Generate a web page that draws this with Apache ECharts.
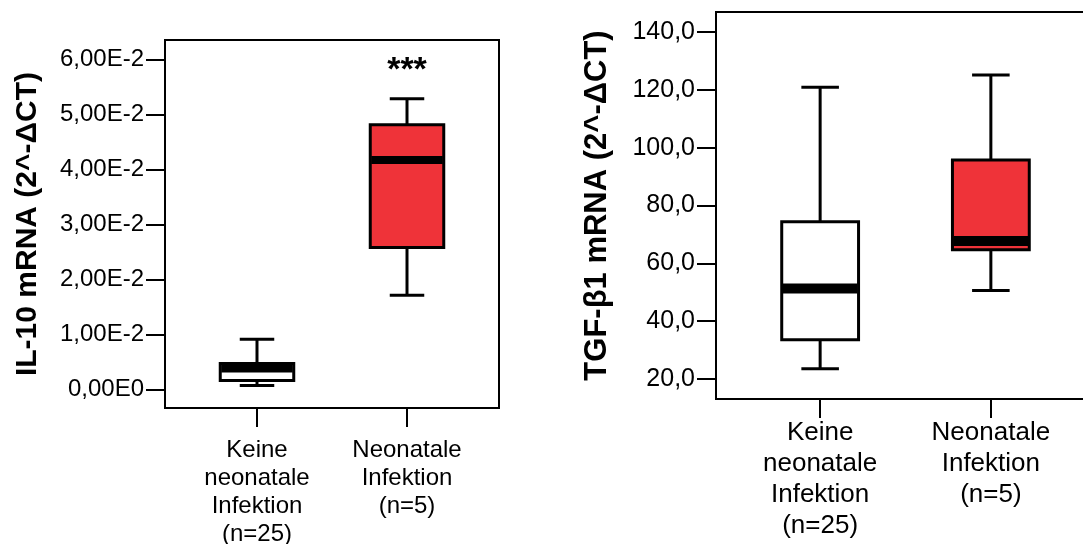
<!DOCTYPE html>
<html>
<head>
    <meta http-equiv="Content-Type" content="text/html; charset=utf-8" />
    <title>IL-10 / TGF-β1 mRNA</title>
    <script src="https://cdn.jsdelivr.net/npm/echarts@6/dist/echarts.min.js"></script>
</head>
<body style="margin:0;padding:0;background:#fff;">
    <div id="main" style="width:1083px;height:544px;"></div>
    <script type="text/javascript">
        // categories (same groups in both panels)
        var cats = ['Keine\nneonatale\nInfektion\n(n=25)', 'Neonatale\nInfektion\n(n=5)'];
        var boxColors = ['#ffffff', '#ef3339'];
        var sigMarks = ['', '***'];

        // IL-10 (left panel)
        var il10Min    = [0.0007, 0.0171];
        var il10Q1     = [0.0016, 0.0258];
        var il10Median = [0.0038, 0.0417];
        var il10Q3     = [0.0047, 0.0481];
        var il10Max    = [0.0091, 0.0528];
        var il10Ticks  = [0, 0.01, 0.02, 0.03, 0.04, 0.05, 0.06];
        var il10TickText = ['0,00E0', '1,00E-2', '2,00E-2', '3,00E-2', '4,00E-2', '5,00E-2', '6,00E-2'];

        // TGF-b1 (right panel)
        var tgfMin    = [23.6, 50.6];
        var tgfQ1     = [33.6, 64.7];
        var tgfMedian = [51.3, 67.7];
        var tgfQ3     = [74.4, 95.7];
        var tgfMax    = [120.9, 125.1];
        var tgfTicks  = [20, 40, 60, 80, 100, 120, 140];
        var tgfTickText = ['20,0', '40,0', '60,0', '80,0', '100,0', '120,0', '140,0'];

        var FONT = "'Liberation Sans', Arial, sans-serif";

        function buildData(mn, q1, med, q3, mx) {
            var out = [];
            for (var i = 0; i < cats.length; i++)
                out.push([i + 1, mn[i], q1[i], med[i], q3[i], mx[i]]);
            return out;
        }

        // box + whiskers drawn with the axis scales
        function boxRenderer(boxW, capW, medW, starSize) {
            return function (params, api) {
                var x = api.value(0);
                var pMin = api.coord([x, api.value(1)]);
                var pQ1 = api.coord([x, api.value(2)]);
                var pMed = api.coord([x, api.value(3)]);
                var pQ3 = api.coord([x, api.value(4)]);
                var pMax = api.coord([x, api.value(5)]);
                var cx = pMed[0];
                var hb = api.size([boxW, 0])[0] / 2;
                var hc = api.size([capW, 0])[0] / 2;
                var ls = { stroke: '#000', lineWidth: 3 };
                var kids = [
                    { type: 'line', shape: { x1: cx, y1: pMax[1], x2: cx, y2: pQ3[1] }, style: ls },
                    { type: 'line', shape: { x1: cx, y1: pQ1[1], x2: cx, y2: pMin[1] }, style: ls },
                    { type: 'line', shape: { x1: cx - hc, y1: pMax[1], x2: cx + hc, y2: pMax[1] }, style: ls },
                    { type: 'line', shape: { x1: cx - hc, y1: pMin[1], x2: cx + hc, y2: pMin[1] }, style: ls },
                    { type: 'rect', shape: { x: cx - hb, y: pQ3[1], width: hb * 2, height: pQ1[1] - pQ3[1] },
                      style: { fill: boxColors[params.dataIndex], stroke: '#000', lineWidth: 3 } },
                    { type: 'line', shape: { x1: cx - hb + 1, y1: pMed[1], x2: cx + hb - 1, y2: pMed[1] },
                      style: { stroke: '#000', lineWidth: medW } }
                ];
                if (starSize && sigMarks[params.dataIndex]) {
                    kids.push({ type: 'text', style: {
                        text: sigMarks[params.dataIndex], x: cx, y: pMax[1] - 45,
                        align: 'center', verticalAlign: 'top',
                        font: 'bold ' + starSize + 'px ' + FONT, fill: '#000' } });
                }
                return { type: 'group', children: kids };
            };
        }

        function catAxis(gridIndex, min, max, fontSize, lineHeight, margin) {
            return {
                type: 'value', gridIndex: gridIndex, min: min, max: max,
                splitLine: { show: false },
                axisLine: { show: true, onZero: false, lineStyle: { color: '#000', width: 2 } },
                axisTick: { show: true, customValues: [1, 2], length: 19, lineStyle: { color: '#000', width: 2 } },
                axisLabel: {
                    show: true, customValues: [1, 2], margin: margin,
                    color: '#000', fontFamily: FONT, fontSize: fontSize, lineHeight: lineHeight, align: 'center',
                    formatter: function (v) { return cats[Math.round(v) - 1] || ''; }
                }
            };
        }

        function valAxis(gridIndex, min, max, ticks, text, fontSize, name, nameSize, nameGap) {
            return {
                type: 'value', gridIndex: gridIndex, min: min, max: max,
                name: name, nameLocation: 'middle', nameGap: nameGap, nameRotate: 90,
                nameTextStyle: { color: '#000', fontFamily: FONT, fontSize: nameSize, fontWeight: 'bold' },
                splitLine: { show: false },
                axisLine: { show: true, onZero: false, lineStyle: { color: '#000', width: 2 } },
                axisTick: { show: true, customValues: ticks, length: 19, lineStyle: { color: '#000', width: 2 } },
                axisLabel: {
                    show: true, customValues: ticks, margin: 21,
                    color: '#000', fontFamily: FONT, fontSize: fontSize,
                    formatter: function (v) {
                        for (var i = 0; i < ticks.length; i++)
                            if (Math.abs(ticks[i] - v) < 1e-9) return text[i];
                        return '';
                    }
                }
            };
        }

        var chart = echarts.init(document.getElementById('main'), null, { renderer: 'canvas' });
        var option = {
            backgroundColor: '#ffffff',
            animation: false,
            grid: [
                { left: 165, top: 40, width: 334, height: 368, outerBoundsMode: 'none', containLabel: false,
                  show: true, borderColor: '#000', borderWidth: 2, backgroundColor: 'transparent' },
                { left: 716, top: 12, width: 379, height: 387, outerBoundsMode: 'none', containLabel: false,
                  show: true, borderColor: '#000', borderWidth: 2, backgroundColor: 'transparent' }
            ],
            xAxis: [
                catAxis(0, 0.3867, 2.6133, 24, 28, 28),
                catAxis(1, 0.39, 2.61, 26, 31, 18)
            ],
            yAxis: [
                valAxis(0, -0.0034, 0.0635, il10Ticks, il10TickText, 24, 'IL-10 mRNA (2^-ΔCT)', 30, 122),
                valAxis(1, 13.1, 146.9, tgfTicks, tgfTickText, 25, 'TGF-β1 mRNA (2^-ΔCT)', 31, 103)
            ],
            series: [
                {
                    type: 'custom', xAxisIndex: 0, yAxisIndex: 0, clip: false,
                    renderItem: boxRenderer(0.49, 0.23, 8, 34),
                    data: buildData(il10Min, il10Q1, il10Median, il10Q3, il10Max)
                },
                {
                    type: 'custom', xAxisIndex: 1, yAxisIndex: 1, clip: false,
                    renderItem: boxRenderer(0.45, 0.22, 10, 0),
                    data: buildData(tgfMin, tgfQ1, tgfMedian, tgfQ3, tgfMax)
                }
            ]
        };
        chart.setOption(option);
    </script>
</body>
</html>
